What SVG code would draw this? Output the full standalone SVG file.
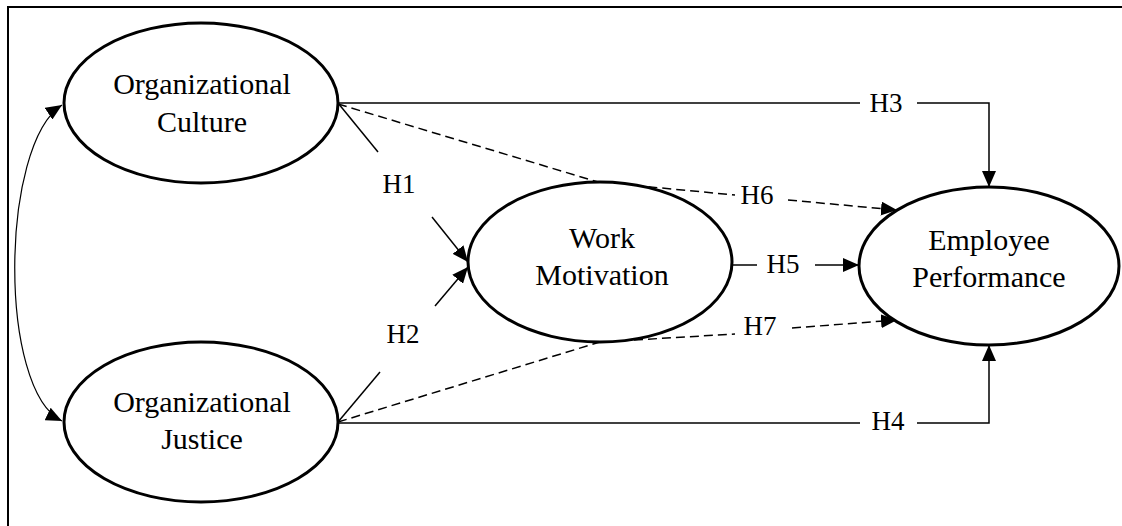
<svg xmlns="http://www.w3.org/2000/svg" width="1122" height="526" viewBox="0 0 1122 526">
  <style>
    .node { fill: #ffffff; stroke: #000000; stroke-width: 3; }
    .ntext { font-family: "Liberation Serif", "Times New Roman", serif; font-size: 30px; fill: #000000; text-anchor: middle; }
    .lbl { font-family: "Liberation Serif", "Times New Roman", serif; font-size: 27px; fill: #000000; text-anchor: middle; }
    .conn { fill: none; stroke: #000000; stroke-width: 1.5; }
    .dash { fill: none; stroke: #000000; stroke-width: 1.5; stroke-dasharray: 9 5; }
    .thin { fill: none; stroke: #000000; stroke-width: 1.2; }
  </style>
  <defs>
    <marker id="arrow" markerUnits="userSpaceOnUse" markerWidth="16" markerHeight="14" refX="16" refY="7" orient="auto-start-reverse">
      <path d="M0,0 L16,7 L0,14 z" fill="#000000"/>
    </marker>
  </defs>
  <rect width="1122" height="526" fill="#ffffff"/>
  <rect id="frame" x="8" y="7" width="1200" height="600" fill="none" stroke="#000000" stroke-width="2"/>

  <g id="connectors">
    <path class="thin" d="M62,105 C0,145 -2,390 62,421" marker-start="url(#arrow)" marker-end="url(#arrow)"/>
    <path class="conn" d="M338,103 L378,152"/>
    <path class="conn" d="M432,217 L468,262" marker-end="url(#arrow)"/>
    <path class="conn" d="M338,422 L380,372"/>
    <path class="conn" d="M435,306 L468,267" marker-end="url(#arrow)"/>
    <path class="conn" d="M338,103 H860"/>
    <path class="conn" d="M917,103 H989 V187" marker-end="url(#arrow)"/>
    <path class="conn" d="M338,423 H860"/>
    <path class="conn" d="M917,423 H989 V345" marker-end="url(#arrow)"/>
    <path class="conn" d="M733,265 H757"/>
    <path class="conn" d="M815,265 H859" marker-end="url(#arrow)"/>
    <path class="dash" d="M338,104 L598,182 L735,195"/>
    <path class="dash" d="M788,200 L897,210" marker-end="url(#arrow)"/>
    <path class="dash" d="M338,422 L600,342 L735,334"/>
    <path class="dash" d="M792,328 L897,320" marker-end="url(#arrow)"/>
    <text class="lbl" x="399" y="193">H1</text>
    <text class="lbl" x="403" y="343">H2</text>
    <text class="lbl" x="886" y="112">H3</text>
    <text class="lbl" x="888" y="430">H4</text>
    <text class="lbl" x="783" y="273">H5</text>
    <text class="lbl" x="757" y="204">H6</text>
    <text class="lbl" x="760" y="335">H7</text>
  </g>

  <g id="organizational-culture">
    <ellipse class="node" cx="201" cy="103" rx="137" ry="80"/>
    <text class="ntext" x="202" y="94">Organizational</text>
    <text class="ntext" x="202" y="132">Culture</text>
  </g>
  <g id="organizational-justice">
    <ellipse class="node" cx="201" cy="422" rx="137" ry="80"/>
    <text class="ntext" x="202" y="412">Organizational</text>
    <text class="ntext" x="202" y="449">Justice</text>
  </g>
  <g id="work-motivation">
    <ellipse class="node" cx="600" cy="262" rx="132" ry="80"/>
    <text class="ntext" x="602" y="248">Work</text>
    <text class="ntext" x="602" y="285">Motivation</text>
  </g>
  <g id="employee-performance">
    <ellipse class="node" cx="989" cy="266" rx="130" ry="79"/>
    <text class="ntext" x="989" y="250">Employee</text>
    <text class="ntext" x="989" y="287">Performance</text>
  </g>
</svg>
